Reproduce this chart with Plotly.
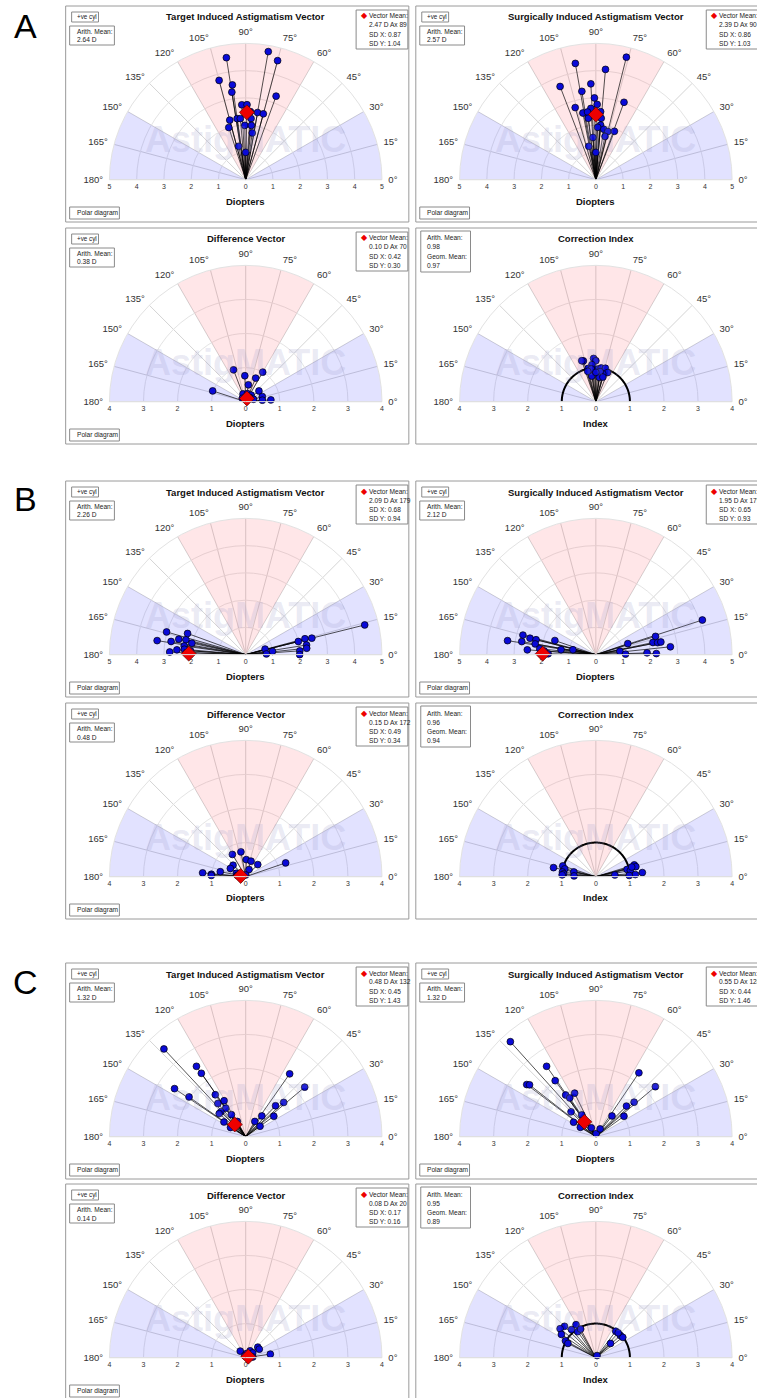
import numpy as np
import plotly.graph_objects as go

W, H = 757, 1398
FONT = "Liberation Sans, Arial, sans-serif"

ANGLE_TICKS = list(range(0, 181, 15))
ANGLE_LABELS = [f"{a}°" for a in ANGLE_TICKS]

# ---------------- A ----------------
A_TIA_MAG = [4.53, 4.77, 4.52, 3.77, 3.51, 3.25, 3.26, 2.75, 2.75, 2.50, 2.50, 2.50,
             2.26, 2.26, 2.25, 2.25, 2.01, 1.99, 2.00, 1.73, 1.25, 1.00]
A_TIA_AX = [99, 80, 75, 105, 98, 99, 70, 93, 89, 86, 80, 75,
            105, 98, 95, 85, 108, 91, 84, 82, 102, 90]
A_TIA_MEAN = (2.47, 89)

A_SIA_MAG = [4.63, 4.33, 4.06, 3.52, 3.66, 3.28, 3.00, 3.02, 2.76, 2.75, 2.62, 2.49, 2.50,
             2.50, 2.27, 2.26, 2.01, 1.92, 1.87, 1.82, 1.90, 1.62, 1.55, 1.25, 1.00]
A_SIA_AX = [76, 100, 85, 93, 111, 99, 91, 70, 89, 106, 94, 101, 97,
            86, 97, 85, 85, 88, 81, 76, 69, 78, 94, 102, 90]
A_SIA_MEAN = (2.39, 90)

A_DV_MAG = [1.02, 1.00, 1.00, 0.76, 0.75, 0.50, 0.50, 0.24, 0.24, 0.25, 0.51, 0.74, 0.49, 0.24, 0.14, 0.17]
A_DV_AX = [162, 111, 60, 92, 67, 81, 39, 109, 78, 50, 17, 4, 5, 17, 135, 48]
A_DV_MEAN = (0.10, 70)

A_CI_MAG = [1.27, 1.25, 1.27, 1.20, 1.09, 1.00, 0.97, 0.96, 1.00, 1.02, 0.92, 0.84, 0.89, 0.76, 0.72, 0.75, 0.86, 0.92]
A_CI_AX = [93, 107, 109, 90, 96, 103, 98, 86, 81, 74, 68, 76, 82, 99, 82, 74, 90, 105]

# ---------------- B ----------------
B_TIA_MAG = [3.02, 3.29, 2.52, 2.78, 2.26, 2.27, 2.02, 2.28, 2.26, 2.53, 2.79, 2.03, 2.17,
             4.50, 2.50, 2.25, 1.99, 2.26, 2.25, 1.99, 1.98, 0.99, 0.74, 0.76]
B_TIA_AX = [164, 171, 167, 170, 166, 160, 168, 172, 175, 176, 178, 176, 178,
            14, 14, 15, 14, 9, 6, 4, 0, 7, 16, 2]
B_TIA_MEAN = (2.09, 179)

B_SIA_MAG = [2.77, 3.28, 2.49, 2.76, 2.26, 2.26, 1.59, 2.07, 2.52, 1.29, 0.86, 1.75, 1.90,
             4.11, 2.29, 1.24, 2.14, 2.31, 2.43, 2.75, 0.89, 1.88, 2.22, 1.09]
B_SIA_AX = [165, 171, 166, 170, 166, 170, 161, 174, 176, 172, 168, 179, 176,
            18, 17, 19, 12, 11, 11, 6, 8, 2, 1, 1]
B_SIA_MEAN = (1.95, 179)

B_DV_MAG = [1.27, 1.01, 1.01, 0.76, 0.76, 0.74, 0.50, 0.51, 0.50, 0.48, 0.50, 0.23, 0.29, 0.05, 1.24, 0.25]
B_DV_AX = [175, 176, 178, 169, 121, 101, 138, 152, 88, 71, 45, 65, 160, 90, 19, 171]
B_DV_MEAN = (0.15, 172)

B_CI_MAG = [1.27, 1.02, 0.94, 0.99, 0.95, 0.66, 0.64, 0.99, 1.18, 1.21, 0.94, 1.03, 1.37, 1.16, 0.98, 0.56, 1.09]
B_CI_AX = [168, 162, 166, 172, 175, 168, 178, 177, 17, 14, 13, 10, 5, 3, 2, 5, 15]

# ---------------- C ----------------
C_TIA_MAG = [3.52, 2.52, 2.27, 2.52, 2.03, 1.52, 1.23, 1.27, 1.02, 1.03, 1.03, 0.77, 0.77, 0.52, 0.51,
             2.25, 2.26, 1.50, 1.26, 1.02, 0.77, 0.52, 0.52]
C_TIA_AX = [133, 125, 125, 146, 145, 126, 121, 130, 125, 135, 139, 123, 146, 149, 119,
            55, 40, 42, 46, 36, 52, 59, 36]
C_TIA_MEAN = (0.48, 132)

C_SIA_MAG = [3.75, 2.52, 2.03, 2.54, 2.47, 1.51, 1.37, 1.42, 1.03, 0.76, 0.78, 0.53, 0.29, 0.09,
             2.26, 2.28, 1.51, 1.27, 1.02, 0.77, 0.26]
C_SIA_AX = [132, 125, 126, 143, 142, 126, 124, 116, 135, 123, 147, 149, 117, 84,
            56, 40, 42, 45, 36, 52, 61]
C_SIA_MEAN = (0.55, 128)

C_DV_MAG = [0.25, 0.24, 0.47, 0.47, 0.73, 0.25, 0.12, 0.06, 0.21]
C_DV_AX = [130, 57, 41, 32, 8, 34, 80, 120, 5]
C_DV_MEAN = (0.08, 20)

C_CI_MAG = [1.13, 1.09, 1.30, 1.35, 1.22, 0.93, 1.02, 0.92, 0.95, 0.97, 0.97, 0.99, 0.60, 0.07, 0.98]
C_CI_AX = [121, 131, 135, 141, 146, 125, 151, 153, 118, 53, 42, 37, 44, 60, 48]

# panel statistics text
STATS = {
    "A_TIA": ("2.64 D", "2.47 D Ax 89", "0.87", "1.04"),
    "A_SIA": ("2.57 D", "2.39 D Ax 90", "0.86", "1.03"),
    "A_DV": ("0.38 D", "0.10 D Ax 70", "0.42", "0.30"),
    "A_CI": ("0.98", "0.97"),
    "B_TIA": ("2.26 D", "2.09 D Ax 179", "0.68", "0.94"),
    "B_SIA": ("2.12 D", "1.95 D Ax 179", "0.65", "0.93"),
    "B_DV": ("0.48 D", "0.15 D Ax 172", "0.49", "0.34"),
    "B_CI": ("0.96", "0.94"),
    "C_TIA": ("1.32 D", "0.48 D Ax 132", "0.45", "1.43"),
    "C_SIA": ("1.32 D", "0.55 D Ax 128", "0.44", "1.46"),
    "C_DV": ("0.14 D", "0.08 D Ax 20", "0.17", "0.16"),
    "C_CI": ("0.95", "0.89"),
}

PANELS = [
    ("A_TIA", "Target Induced Astigmatism Vector", 5, A_TIA_MAG, A_TIA_AX, A_TIA_MEAN),
    ("A_SIA", "Surgically Induced Astigmatism Vector", 5, A_SIA_MAG, A_SIA_AX, A_SIA_MEAN),
    ("A_DV", "Difference Vector", 4, A_DV_MAG, A_DV_AX, A_DV_MEAN),
    ("A_CI", "Correction Index", 4, A_CI_MAG, A_CI_AX, None),
    ("B_TIA", "Target Induced Astigmatism Vector", 5, B_TIA_MAG, B_TIA_AX, B_TIA_MEAN),
    ("B_SIA", "Surgically Induced Astigmatism Vector", 5, B_SIA_MAG, B_SIA_AX, B_SIA_MEAN),
    ("B_DV", "Difference Vector", 4, B_DV_MAG, B_DV_AX, B_DV_MEAN),
    ("B_CI", "Correction Index", 4, B_CI_MAG, B_CI_AX, None),
    ("C_TIA", "Target Induced Astigmatism Vector", 4, C_TIA_MAG, C_TIA_AX, C_TIA_MEAN),
    ("C_SIA", "Surgically Induced Astigmatism Vector", 4, C_SIA_MAG, C_SIA_AX, C_SIA_MEAN),
    ("C_DV", "Difference Vector", 4, C_DV_MAG, C_DV_AX, C_DV_MEAN),
    ("C_CI", "Correction Index", 4, C_CI_MAG, C_CI_AX, None),
]

ROW_CY = [180, 402, 655, 877, 1137, 1358]
COL_CX = [245, 597]
R = 137

PINK = "rgba(255,60,80,0.13)"
BLUE = "rgba(60,60,255,0.15)"
FRAME = "#9a9a9a"
BOXC = "#8a8a8a"


def px(x):
    return x / W


def py(y):
    return 1 - y / H


fig = go.Figure()
shapes = []
annotations = []


def text(x, y, s, size, xanchor="left", yanchor="middle", color="#222", bold=False):
    annotations.append(dict(
        x=px(x), y=py(y), xref="paper", yref="paper", text=(f"<b>{s}</b>" if bold else s),
        showarrow=False, xanchor=xanchor, yanchor=yanchor,
        font=dict(family=FONT, size=size, color=color)))


def box(x0, y0, x1, y1):
    shapes.append(dict(type="rect", xref="paper", yref="paper",
                       x0=px(x0), x1=px(x1), y0=py(y1), y1=py(y0),
                       line=dict(color=BOXC, width=1), fillcolor="white", layer="above"))


layout_extra = {}
for i, (key, title, rmax, mag, ax, mean) in enumerate(PANELS):
    row, col = divmod(i, 2)
    cx, cy = COL_CX[col], ROW_CY[row]
    pkey = "polar" if i == 0 else f"polar{i + 1}"
    sub = pkey
    is_ci = key.endswith("CI")

    # shaded sectors
    fig.add_trace(go.Barpolar(r=[rmax, rmax, rmax], theta=[15, 90, 165], width=[30, 60, 30],
                              marker=dict(color=[BLUE, PINK, BLUE], line=dict(width=0)),
                              subplot=sub, showlegend=False, hoverinfo="skip"))
    # spokes from origin
    rr, tt = [], []
    for m, a in zip(mag, ax):
        rr += [0, m, None]
        tt += [a, a, None]
    fig.add_trace(go.Scatterpolar(r=rr, theta=tt, mode="lines",
                                  line=dict(color="rgba(0,0,0,0.85)", width=0.8),
                                  subplot=sub, showlegend=False, hoverinfo="skip"))
    if is_ci:
        th = np.linspace(0, 180, 181)
        fig.add_trace(go.Scatterpolar(r=np.ones_like(th), theta=th, mode="lines",
                                      line=dict(color="black", width=2),
                                      subplot=sub, showlegend=False, hoverinfo="skip"))
    fig.add_trace(go.Scatterpolar(r=mag, theta=ax, mode="markers",
                                  marker=dict(color="#0a0ad8", size=6.8, line=dict(color="black", width=0.7)),
                                  subplot=sub, showlegend=False, hoverinfo="skip"))
    if mean is not None:
        fig.add_trace(go.Scatterpolar(r=[mean[0]], theta=[mean[1]], mode="markers",
                                      marker=dict(color="#ee0000", symbol="diamond", size=11.5,
                                                  line=dict(color="#550000", width=0.7)),
                                      subplot=sub, showlegend=False, hoverinfo="skip"))

    layout_extra[pkey] = dict(
        domain=dict(x=[px(cx - R), px(cx + R)], y=[py(cy), py(cy - R)]),
        sector=[0, 180], bgcolor="rgba(0,0,0,0)",
        radialaxis=dict(range=[0, rmax], dtick=1, showticklabels=False, ticks="", showline=False,
                        gridcolor="#e4e4e4", gridwidth=1),
        angularaxis=dict(tickmode="array", tickvals=ANGLE_TICKS, ticktext=ANGLE_LABELS,
                         direction="counterclockwise", rotation=0,
                         ticks="outside", ticklen=4, tickcolor="rgba(0,0,0,0)",
                         gridcolor="#d4d4d4", gridwidth=1, linecolor="#e2e2e2", linewidth=1,
                         tickfont=dict(family=FONT, size=9.5, color="#333")),
    )

    # cartesian axis for the diameter labels
    k = i + 1
    xk = "xaxis" if k == 1 else f"xaxis{k}"
    yk = "yaxis" if k == 1 else f"yaxis{k}"
    xa = "x" if k == 1 else f"x{k}"
    ya = "y" if k == 1 else f"y{k}"
    ticks = list(range(-rmax, rmax + 1))
    layout_extra[xk] = dict(domain=[px(cx - R), px(cx + R)], range=[-rmax, rmax], anchor=ya,
                            tickmode="array", tickvals=ticks, ticktext=[str(abs(t)) for t in ticks],
                            showgrid=False, zeroline=False, showline=False, ticks="",
                            tickfont=dict(family=FONT, size=7, color="#333"), fixedrange=True)
    layout_extra[yk] = dict(domain=[py(cy + 1), py(cy + 1) + 0.002], range=[0, 1], anchor=xa,
                            visible=False, fixedrange=True)
    fig.add_trace(go.Scatter(x=[None], y=[None], xaxis=xa, yaxis=ya, showlegend=False, hoverinfo="skip"))

    # frame
    fl, ft = cx - 181, cy - 174
    shapes.append(dict(type="rect", xref="paper", yref="paper",
                       x0=px(fl), x1=px(cx + 164), y0=py(cy + 42), y1=py(ft),
                       line=dict(color=FRAME, width=1), fillcolor="rgba(0,0,0,0)", layer="below"))

    # watermark
    text(cx, cy - 40, "AstigMATIC", 36, xanchor="center", color="rgba(150,150,200,0.2)", bold=True)
    # title and axis label
    text(cx, ft + 11, title, 9.5, xanchor="center", color="#111", bold=True)
    text(cx, cy + 21, "Index" if is_ci else "Diopters", 9.5, xanchor="center", color="#111", bold=True)

    st = STATS[key]
    if is_ci:
        box(fl + 5, ft + 3, fl + 55, ft + 44)
        for j, s in enumerate(["Arith. Mean:", st[0], "Geom. Mean:", st[1]]):
            text(fl + 9, ft + 10 + 9 * j, s, 6.6)
    else:
        box(fl + 6, ft + 6, fl + 33, ft + 16)
        text(fl + 9, ft + 11, "+ve cyl", 6.3)
        box(fl + 4, ft + 20, fl + 49, ft + 39)
        text(fl + 9, ft + 25.5, "Arith. Mean:", 6.6)
        text(fl + 9, ft + 34, st[0], 6.6)
        box(fl + 4, ft + 201, fl + 54, ft + 213)
        text(fl + 9, ft + 207, "Polar diagram", 6.6)
        box(fl + 292, ft + 4, fl + 344, ft + 43)
        text(fl + 294.5, ft + 10, "<span style='color:#ee0000'>◆</span>", 8)
        for j, s in enumerate(["Vector Mean:", st[1], f"SD X: {st[2]}", f"SD Y: {st[3]}"]):
            text(fl + 303, ft + 10 + 9 * j, s, 6.6)

# panel letters
for letter, y in (("A", 26), ("B", 499), ("C", 982)):
    text(24, y, letter, 34, xanchor="center", color="#000")

fig.update_layout(
    width=W, height=H, margin=dict(l=0, r=0, t=0, b=0),
    paper_bgcolor="white", plot_bgcolor="rgba(0,0,0,0)",
    showlegend=False, shapes=shapes, annotations=annotations,
    font=dict(family=FONT),
    **layout_extra,
)

fig.write_html("out.html", config={"displayModeBar": False},
               post_script="document.body.style.margin='0';document.body.style.padding='0';")
